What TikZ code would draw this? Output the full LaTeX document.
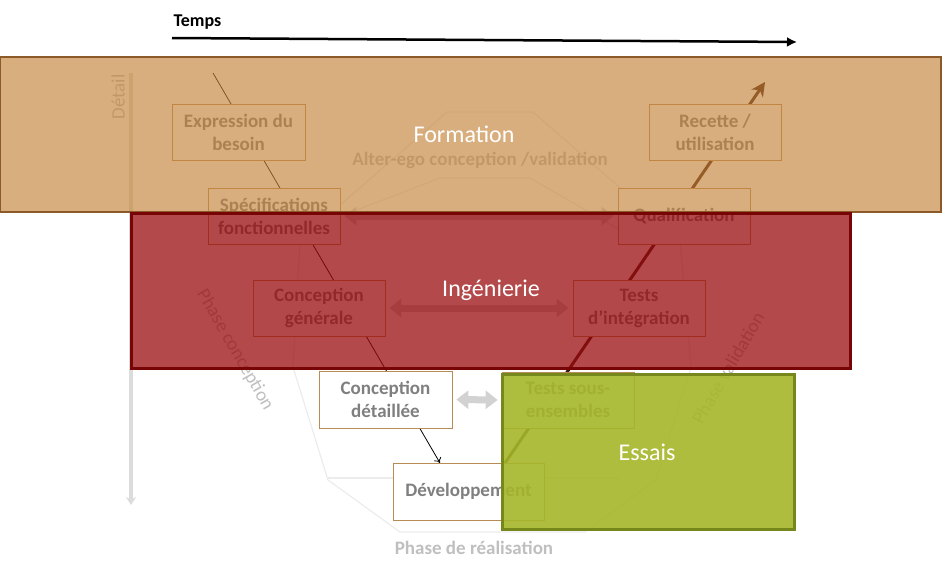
\documentclass[tikz,border=0pt]{standalone}
\usepackage{fontspec}
\setmainfont{Carlito}
\usetikzlibrary{arrows.meta,calc}
\definecolor{formC}{RGB}{197,131,57}
\definecolor{formB}{RGB}{140,90,40}
\definecolor{ingC}{RGB}{154,12,15}
\definecolor{ingB}{RGB}{120,5,5}
\definecolor{essC}{RGB}{165,182,41}
\definecolor{essB}{RGB}{118,135,28}
\definecolor{boxB}{RGB}{185,140,85}
\definecolor{textgray}{RGB}{127,127,127}
\definecolor{faint}{RGB}{191,191,191}
\definecolor{faintline}{RGB}{236,236,236}
\definecolor{fatgray}{RGB}{210,210,210}
\definecolor{vline}{RGB}{60,20,10}
\begin{document}
\begin{tikzpicture}[x=1pt,y=-1pt,
  vbox/.style={draw=boxB, fill=white, line width=0.8pt, minimum width=132pt, minimum height=56pt,
    align=center, font=\bfseries\fontsize{19}{23}\selectfont, text=textgray, inner sep=2pt},
  faintpath/.style={draw=faintline, line width=1.2pt, line join=round},
  fainttext/.style={text=faint, font=\fontsize{19}{23}\selectfont},
  fatarrow/.style={draw=fatgray, line width=7pt,
    {Triangle[length=12pt,width=18pt]}-{Triangle[length=12pt,width=18pt]},
    shorten <=4pt, shorten >=4pt},
  thinv/.style={draw=black, line width=0.8pt, -{To[length=5pt,width=8pt]}},
  thickv/.style={draw=vline, line width=3pt, -{Stealth[length=14pt,width=14pt]}},
  ovlabel/.style={text=white, font=\fontsize{24}{28}\selectfont}
]
\useasboundingbox (0,0) rectangle (951,565);

% faint background outlines
\draw[faintpath] (447,112) -- (533,112) -- (680,240) -- (691,367) -- (656,480) -- (585,532)
  -- (400,532) -- (328,480) -- (293,367) -- (300,240) -- cycle;
\draw[faintpath] (357,210) -- (440,178) -- (530,178) -- (620,230);
\draw[faintpath] (328,478) -- (620,478);

% faint texts
\node[fainttext, font=\bfseries\fontsize{19}{23}\selectfont] (alter) at (480,160) {Alter-ego conception /validation};
\node[fainttext, font=\bfseries\fontsize{19}{23}\selectfont] (realis) at (474,548) {Phase de réalisation};
\node[fainttext, rotate=-60] (phconc) at (235,350) {Phase conception};
\node[fainttext, rotate=60] (phval) at (728,368) {Phase validation};
\node[fainttext, rotate=90] (detail) at (118,97) {Détail};

% detail arrow
\coordinate (d0) at (131,73);
\coordinate (d1) at (131,505);
\draw[draw=faintline!85!gray, line width=4pt, -{Stealth[length=8pt,width=10pt]}] (d0) -- (d1);

% time arrow
\node[anchor=west, font=\bfseries\fontsize{18}{22}\selectfont] (temps) at (170,22) {Temps};
\coordinate (t0) at (172,38);
\coordinate (t1) at (797,42);
\draw[line width=2.5pt, -{Latex[length=10pt,width=10pt]}] (t0) -- (t1);

% V lines
\coordinate (vls) at (213,73);
\coordinate (vle) at (440,463);
\coordinate (vrs) at (505,463);
\coordinate (vre) at (765,82);
\draw[thinv] (vls) -- (vle);
\draw[thickv] (vrs) -- (vre);

% boxes
\node[vbox, minimum width=133pt] (exp) at (238.5,132) {Expression du\\besoin};
\node[vbox] (spec) at (274,216) {Spécifications\\fonctionnelles};
\node[vbox] (cg) at (319,308) {Conception\\générale};
\node[vbox, minimum width=133pt, minimum height=57pt] (cd) at (385.5,399.5) {Conception\\détaillée};
\node[vbox, minimum width=151pt, minimum height=57pt] (dev) at (468.5,491.5) {Développement};
\node[vbox] (tse) at (568,400) {Tests sous-\\ensembles};
\node[vbox] (ti) at (639,308) {Tests\\d’intégration};
\node[vbox] (qual) at (684,216) {Qualification};
\node[vbox] (rec) at (715,132) {Recette /\\utilisation};

% fat double arrows
\draw[fatarrow] (spec.east) -- (qual.west);
\draw[fatarrow] (cg.east) -- (ti.west);
\draw[fatarrow] (cd.east) -- (tse.west);

% overlays
\path[fill=formC, fill opacity=0.65, draw=formB, line width=2.5pt] (0,57) rectangle (941,212);
\path[fill=ingC, fill opacity=0.75, draw=ingB, line width=3pt] (131,213) rectangle (850,368);
\path[fill=essC, fill opacity=0.9, draw=essB, line width=3pt] (502,374) rectangle (794,529);

\node[ovlabel] (lform) at (464,134) {Formation};
\node[ovlabel] (ling) at (491,290) {Ingénierie};
\node[ovlabel] (less) at (647,452) {Essais};
\end{tikzpicture}
\end{document}
